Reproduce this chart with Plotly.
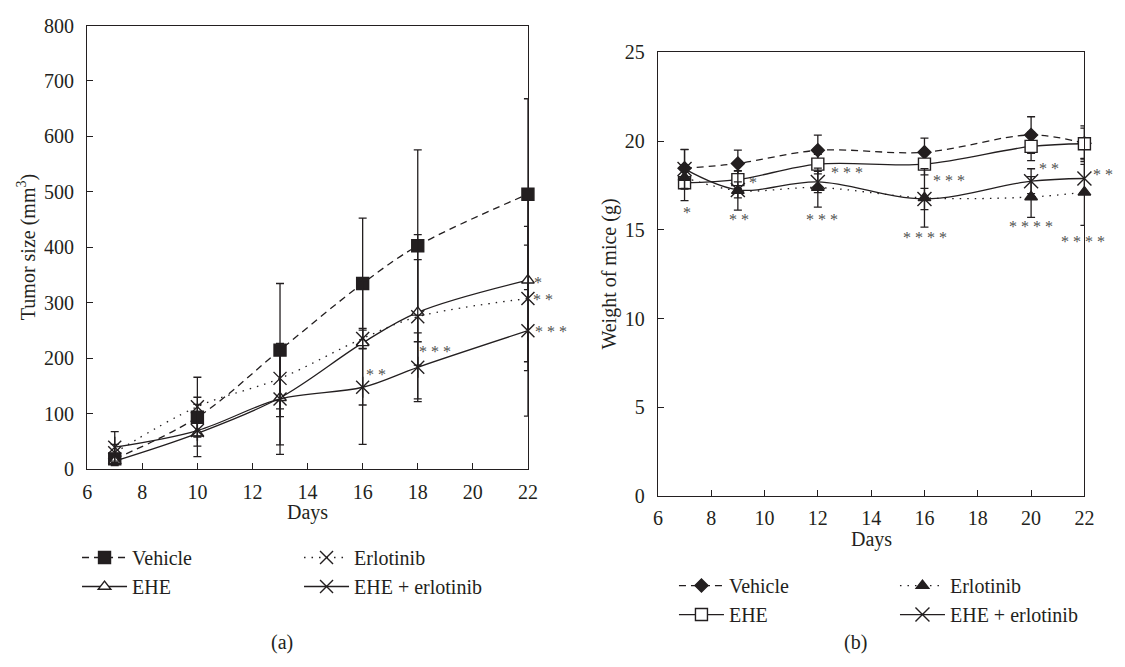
import plotly.graph_objects as go

# ---------------- data ----------------
days_a = [7, 10, 13, 16, 18, 22]
vehicle_a = [19, 94, 215, 335, 403, 496]
vehicle_a_err = [10, 36, 120, 118, 173, 172]
ehe_a = [15, 65, 129, 228, 283, 341]
ehe_a_err = [8, 23, 85, 112, 95, 147]
erl_a = [30, 113, 164, 236, 275, 308]
erl_a_err = [15, 53, 55, 18, 148, 130]
combo_a = [40, 70, 127, 148, 184, 250]
combo_a_err = [28, 47, 100, 103, 62, 154]

days_b = [7, 9, 12, 16, 20, 22]
vehicle_b = [18.47, 18.74, 19.48, 19.37, 20.34, 19.88]
vehicle_b_err = [1.05, 0.75, 0.85, 0.8, 1.03, 0.85]
ehe_b = [17.65, 17.83, 18.70, 18.70, 19.70, 19.85]
ehe_b_err = [1.0, 0.5, 0.55, 0.6, 0.8, 1.0]
erl_b = [17.95, 17.21, 17.38, 16.80, 16.85, 17.12]
erl_b_err = [0.65, 1.1, 1.1, 1.65, 1.15, 1.87]
combo_b = [18.43, 17.25, 17.70, 16.74, 17.74, 17.89]
combo_b_err = [1.1, 0.45, 0.6, 0.6, 0.7, 0.8]

series_names = ["Vehicle", "EHE", "Erlotinib", "EHE + erlotinib"]
x_ticks = [6, 8, 10, 12, 14, 16, 18, 20, 22]
y_ticks_a = [0, 100, 200, 300, 400, 500, 600, 700, 800]
y_ticks_b = [0, 5, 10, 15, 20, 25]

# significance marks: (series, day index, text, x offset px, y offset px)
stars_a = [
    ("ehe", 5, "*", 10, -2),
    ("erl", 5, "* *", 15, -1),
    ("combo", 5, "* * *", 23, -1),
    ("combo", 3, "* *", 13, 13),
    ("combo", 4, "* * *", 17, 16),
]
stars_b = [
    ("erl", 0, "*", 2, -35),
    ("erl", 1, "* *", 1, -29),
    ("erl", 2, "* * *", 4, -32),
    ("erl", 3, "* * * *", 1, -40),
    ("erl", 4, "* * * *", 0, -30),
    ("erl", 5, "* * * *", -1, -49),
    ("combo", 1, "*", 15, 7),
    ("combo", 2, "* * *", 29, 9),
    ("combo", 3, "* * *", 25, 18),
    ("combo", 4, "* *", 18, 13),
    ("combo", 5, "* *", 19, 4),
]

# ---------------- style ----------------
INK = "#231f20"
STAR = "#505050"
FONT = "Liberation Serif"
W, H = 1125, 667


def px(x):
    return x / W


def py(y):
    return 1 - y / H


fig = go.Figure()


def err(arr):
    return dict(type="data", array=arr, symmetric=True, width=4, thickness=1.3, color=INK)


def add(x, y, e, name, symbol, size, dash, xa, ya, legend, mfill=INK, show=True, smooth=1.0):
    fig.add_trace(go.Scatter(
        x=x, y=y, name=name, mode="lines+markers",
        line=dict(color=INK, width=1.3, dash=dash, shape="spline", smoothing=smooth),
        marker=dict(symbol=symbol, size=size, color=mfill,
                    line=dict(color=INK, width=1.4)),
        error_y=err(e), xaxis=xa, yaxis=ya, legend=legend,
        showlegend=show, cliponaxis=False,
    ))


# panel (a)
add(days_a, vehicle_a, vehicle_a_err, series_names[0], "square", 12, "7px,5px", "x", "y", "legend")
add(days_a, ehe_a, ehe_a_err, series_names[1], "triangle-up", 11, "solid", "x", "y", "legend", mfill="white")
add(days_a, erl_a, erl_a_err, series_names[2], "x-thin-open", 13, "1.5px,6px", "x", "y", "legend2")
add(days_a, combo_a, combo_a_err, series_names[3], "x-thin-open", 13, "solid", "x", "y", "legend2")
fig.add_trace(go.Scatter(x=days_a, y=combo_a, mode="markers", xaxis="x", yaxis="y",
                         marker=dict(symbol="line-ns-open", size=15, color=INK,
                                     line=dict(color=INK, width=1.4)),
                         showlegend=False, cliponaxis=False, hoverinfo="skip"))

# panel (b)
add(days_b, vehicle_b, vehicle_b_err, series_names[0], "diamond", 10, "7px,5px", "x2", "y2", "legend3")
add(days_b, ehe_b, ehe_b_err, series_names[1], "square", 12, "solid", "x2", "y2", "legend3", mfill="white")
add(days_b, erl_b, erl_b_err, series_names[2], "triangle-up", 11, "1.5px,6px", "x2", "y2", "legend4")
add(days_b, combo_b, combo_b_err, series_names[3], "x-thin-open", 14, "solid", "x2", "y2", "legend4")

series_a = {"vehicle": vehicle_a, "ehe": ehe_a, "erl": erl_a, "combo": combo_a}
series_b = {"vehicle": vehicle_b, "ehe": ehe_b, "erl": erl_b, "combo": combo_b}

annotations = []
for key, i, txt, dx, dy in stars_a:
    annotations.append(dict(x=days_a[i], y=series_a[key][i], xref="x", yref="y", text=txt,
                            showarrow=False, xshift=dx, yshift=dy, xanchor="center", yanchor="middle",
                            font=dict(family=FONT, size=16, color=STAR)))
for key, i, txt, dx, dy in stars_b:
    annotations.append(dict(x=days_b[i], y=series_b[key][i], xref="x2", yref="y2", text=txt,
                            showarrow=False, xshift=dx, yshift=dy, xanchor="center", yanchor="middle",
                            font=dict(family=FONT, size=16, color=STAR)))

tfont = dict(family=FONT, size=20, color=INK)


def label(x, y, text, angle=0):
    return dict(x=px(x), y=py(y), xref="paper", yref="paper", text=text, textangle=angle,
                showarrow=False, xanchor="center", yanchor="middle", font=tfont)


annotations += [
    label(306.5, 519, "Days"),
    label(877.8, 546.7, "Days"),
    label(22, 244.5, "Tumor size (mm<sup>3</sup>)", -90),
    label(611.7, 272, "Weight of mice (g)", -90),
    label(281, 653, "(a)"),
    label(861.7, 653, "(b)"),
]

axis_common = dict(showgrid=False, zeroline=False, showline=True, linecolor=INK, linewidth=1.4,
                   mirror=True, ticks="inside", ticklen=6, tickwidth=1.2, tickcolor=INK,
                   tickfont=dict(family=FONT, size=20, color=INK))

leg_common = dict(orientation="v", xanchor="left", yanchor="top", bgcolor="rgba(0,0,0,0)",
                  font=dict(family=FONT, size=20, color=INK), itemwidth=45, tracegroupgap=0)

fig.update_layout(
    width=W, height=H, margin=dict(l=0, r=0, t=0, b=0),
    paper_bgcolor="white", plot_bgcolor="white",
    xaxis=dict(domain=[px(83.3), px(530)], range=[6, 22], tickvals=x_ticks, anchor="y",
               ticklabelstandoff=4, **axis_common),
    yaxis=dict(domain=[py(474), py(15)], range=[0, 800], tickvals=y_ticks_a, anchor="x",
               ticklabelstandoff=8, **axis_common),
    xaxis2=dict(domain=[px(661.7), px(1094)], range=[6, 22], tickvals=x_ticks, anchor="y2",
                ticklabelstandoff=4, **axis_common),
    yaxis2=dict(domain=[py(501.7), py(42.7)], range=[0, 25], tickvals=y_ticks_b, anchor="x2",
                ticklabelstandoff=8, **axis_common),
    legend=dict(x=px(73), y=py(545), **leg_common),
    legend2=dict(x=px(298), y=py(545), **leg_common),
    legend3=dict(x=px(678), y=py(574), **leg_common),
    legend4=dict(x=px(902), y=py(574), **leg_common),
    annotations=annotations,
    showlegend=True,
)

fig.write_html("out.html")
